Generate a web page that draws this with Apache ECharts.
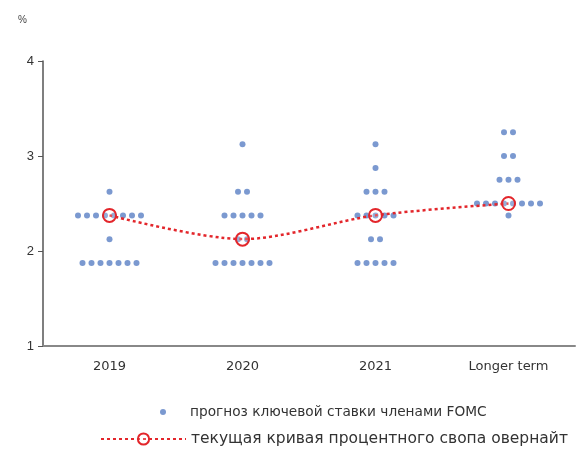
<!DOCTYPE html>
<html><head><meta charset="utf-8">
<script src="https://cdn.jsdelivr.net/npm/echarts@6/dist/echarts.min.js"></script>
<style>html,body{margin:0;padding:0;background:#fff}#c{width:584px;height:456px}</style>
</head><body><div id="c"></div>
<script>
const categories = ['2019', '2020', '2021', 'Longer term'];
// FOMC dots: [rate, number of participants]
const dots2019 = [[1.875, 7], [2.125, 1], [2.375, 8], [2.625, 1]];
const dots2020 = [[1.875, 7], [2.125, 2], [2.375, 5], [2.625, 2], [3.125, 1]];
const dots2021 = [[1.875, 5], [2.125, 2], [2.375, 5], [2.625, 3], [2.875, 1], [3.125, 1]];
const dotsLonger = [[2.375, 1], [2.5, 8], [2.75, 3], [3.0, 2], [3.25, 2]];
const swapCurve = [2.375, 2.125, 2.375, 2.5];
const yTicks = [1, 2, 3, 4];
const nameDots = 'прогноз ключевой ставки членами FOMC';
const nameSwap = 'текущая кривая процентного свопа овернайт';

const DOT_SPACING = 9;
const allDots = [dots2019, dots2020, dots2021, dotsLonger];
const scatterData = [];
allDots.forEach((rows, ci) => {
  rows.forEach(([rate, n]) => {
    for (let k = 0; k < n; k++) {
      scatterData.push({ value: [ci, rate], symbolOffset: [(k - (n - 1) / 2) * DOT_SPACING, 0] });
    }
  });
});

const chart = echarts.init(document.getElementById('c'));
const font = 'Liberation Sans, Arial, sans-serif';
const wideFont = 'DejaVu Sans, sans-serif';
chart.setOption({
  animation: false,
  backgroundColor: '#fff',
  title: { text: '%', left: 13, top: 10, textStyle: { fontSize: 10, fontWeight: 'normal', color: '#444', fontFamily: font } },
  grid: { left: 43, right: 9, top: 61, bottom: 110 },
  xAxis: {
    type: 'category', data: categories, boundaryGap: true,
    axisLine: { lineStyle: { color: '#888', width: 2 } },
    axisTick: { show: false },
    axisLabel: { color: '#333', fontSize: 13, fontFamily: wideFont, margin: 14 }
  },
  yAxis: {
    type: 'value', min: yTicks[0], max: yTicks[yTicks.length - 1], interval: 1,
    axisLine: { show: true, lineStyle: { color: '#555', width: 1.5 } },
    axisTick: { show: true, length: 5, lineStyle: { color: '#555' } },
    splitLine: { show: false },
    axisLabel: { color: '#333', fontSize: 13, fontFamily: font, margin: 9 }
  },
  legend: [
    {
      data: [{ name: nameDots, icon: 'circle' }],
      left: 155, top: 400, itemWidth: 6, itemHeight: 6,
      textStyle: { color: '#333', fontSize: 13.7, fontFamily: wideFont, padding: [0, 0, 0, 19] }
    },
    {
      data: [nameSwap],
      left: 95, top: 426, itemWidth: 85, itemHeight: 14,
      textStyle: { color: '#333', fontSize: 15.5, fontFamily: wideFont }
    }
  ],
  series: [
    {
      name: nameDots, type: 'scatter', data: scatterData,
      symbol: 'circle', symbolSize: 6,
      itemStyle: { color: '#5a80c4' }, z: 2
    },
    {
      name: nameSwap, type: 'line', data: swapCurve, smooth: 0.3,
      symbol: 'circle', symbolSize: 13,
      lineStyle: { color: '#e3262b', width: 2.5, type: [3, 3] },
      itemStyle: { color: 'rgba(255,255,255,0.2)', borderColor: '#e3262b', borderWidth: 2 },
      z: 3
    }
  ]
});
</script></body></html>
